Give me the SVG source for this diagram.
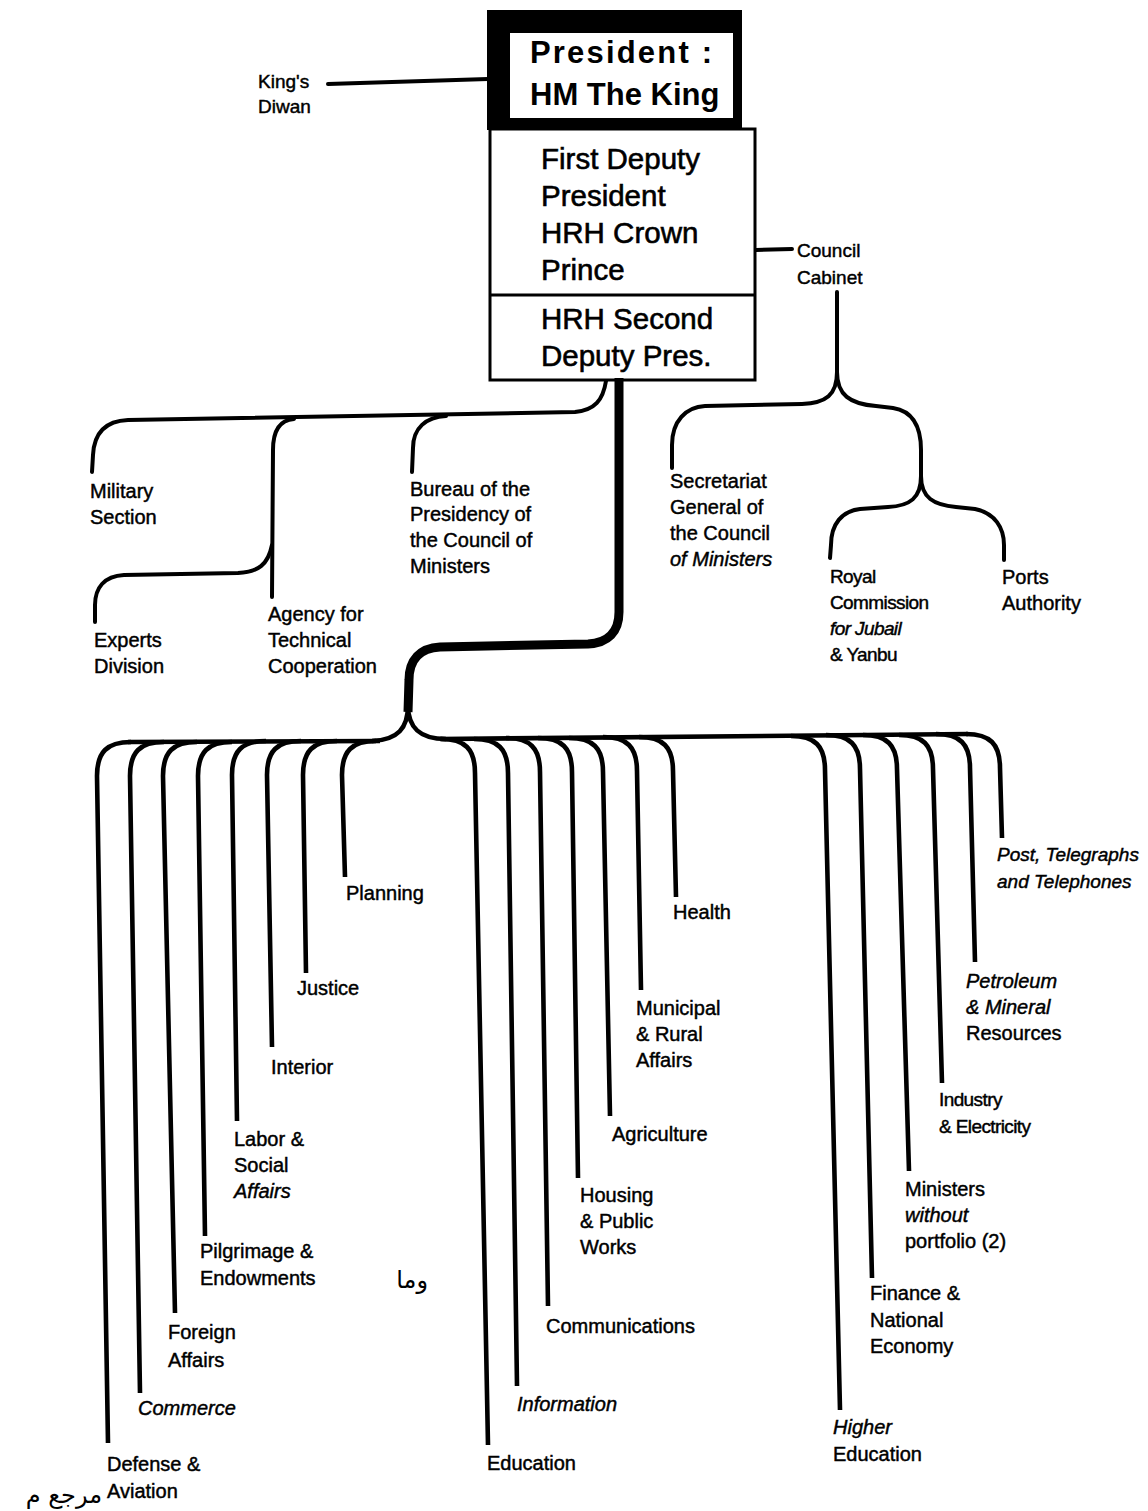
<svg xmlns="http://www.w3.org/2000/svg" width="1148" height="1511" viewBox="0 0 1148 1511">
<style>
.lbl{font-family:"Liberation Sans",Arial,sans-serif;font-size:20px;fill:#000;stroke:#000;stroke-width:0.45px}
.it{font-style:italic}
.sm{font-size:19px}
.nar{font-size:19px;letter-spacing:-0.6px}
.bx{font-family:"Liberation Sans",Arial,sans-serif;font-size:29.5px;fill:#000;stroke:#000;stroke-width:0.6px}
.bxb{font-family:"Liberation Sans",Arial,sans-serif;font-size:31px;font-weight:bold;fill:#000}
.ar{font-family:"DejaVu Sans",sans-serif;font-size:24px;fill:#000}
.c{fill:none;stroke:#000;stroke-width:4;stroke-linecap:round;stroke-linejoin:round}
.f{fill:none;stroke:#000;stroke-width:4.6;stroke-linecap:butt;stroke-linejoin:round}
.trunk{fill:none;stroke:#000;stroke-width:9;stroke-linejoin:round}
</style>
<rect width="1148" height="1511" fill="#fff"/>

<g id="connectors">
  <!-- King's Diwan -->
  <path class="c" d="M328 84 L488 79" stroke-width="3.5"/>
  <!-- Council Cabinet -->
  <path class="c" d="M756 250 L792 249" stroke-width="3.5"/>
  <path class="c" d="M837 292 L837 374"/>
  <path class="c" d="M837 372 C837 395 826 403 802 404 L705 406 C686 407 672 421 672 445 L672 468"/>
  <path class="c" d="M837 372 C837 395 850 404 876 406 L893 408 C912 411 921 425 921 450 L921 478"/>
  <path class="c" d="M921 476 C921 498 910 506 888 507 L860 509 C842 511 831 524 831 545 L830 558"/>
  <path class="c" d="M921 476 C921 498 934 505 956 507 L975 509 C995 513 1004 528 1004 545 L1004 560"/>
  <!-- thin branch from box -->
  <path class="c" d="M606 381 C603 400 595 410 575 412 L128 420 C104 421 94 435 93 455 L92 472"/>
  <path class="c" d="M446 416 C426 417 413 428 413 448 L412 472"/>
  <path class="c" d="M294 419 C280 420 273 430 273 450 L272 597"/>
  <path class="c" d="M272 545 C268 565 258 572 238 573 L124 575 C104 576 95 588 95 605 L95 622"/>
  <!-- thick trunk -->
  <path class="trunk" d="M619 378 L619 612 C619 632 608 643 588 644 L440 647 C420 648 409 660 409 680 L408 712"/>
  <path class="f" d="M408 705 C408 728 398 740 372 741" stroke-width="5"/>
  <path class="f" d="M408 705 C408 728 420 739 446 739" stroke-width="5"/>
  <!-- fan horizontals -->
  <path class="f" d="M128 742 L380 741"/>
  <path class="f" d="M440 739 L968 734"/>
  <!-- left fan -->
  <path class="f" d="M131 742 C107 742 97 752 97 776 L108 1443"/>
  <path class="f" d="M164 742 C140 742 130 752 130 776 L140 1393"/>
  <path class="f" d="M197 742 C173 742 163 752 163 776 L175 1313"/>
  <path class="f" d="M232 742 C208 742 198 752 198 776 L205 1236"/>
  <path class="f" d="M266 741 C242 741 232 751 232 775 L237 1121"/>
  <path class="f" d="M301 741 C277 741 267 751 267 775 L272 1047"/>
  <path class="f" d="M337 741 C313 741 303 751 303 775 L306 973"/>
  <path class="f" d="M376 741 C352 741 342 751 342 775 L345 877"/>
  <!-- right fan -->
  <path class="f" d="M441 739 C465 739 475 749 475 773 L488 1445"/>
  <path class="f" d="M474 739 C498 739 508 749 508 773 L517 1386"/>
  <path class="f" d="M506 738 C530 738 540 748 540 772 L548 1306"/>
  <path class="f" d="M538 738 C562 738 572 748 572 772 L578 1178"/>
  <path class="f" d="M569 738 C593 738 603 748 603 772 L610 1116"/>
  <path class="f" d="M603 737 C627 737 637 747 637 771 L641 990"/>
  <path class="f" d="M639 737 C663 737 673 747 673 771 L676 897"/>
  <path class="f" d="M791 736 C815 736 825 746 825 770 L840 1410"/>
  <path class="f" d="M826 735 C850 735 860 745 860 769 L872 1278"/>
  <path class="f" d="M863 735 C887 735 897 745 897 769 L909 1171"/>
  <path class="f" d="M899 735 C923 735 933 745 933 769 L942 1083"/>
  <path class="f" d="M936 734 C960 734 970 744 970 768 L975 962"/>
  <path class="f" d="M966 734 C990 734 1000 744 1000 768 L1002 838"/>
</g>

<g id="president">
  <rect x="487" y="10" width="255" height="120" fill="#000"/>
  <rect x="510" y="33" width="223" height="85" fill="#fff"/>
  <text class="bxb" x="530" y="63" textLength="182" lengthAdjust="spacing">President :</text>
  <text class="bxb" x="530" y="105">HM The King</text>
</g>
<g id="first-deputy">
  <rect x="490" y="129" width="265" height="251" fill="none" stroke="#000" stroke-width="3"/>
  <text class="bx" x="541" y="169">First Deputy</text>
  <text class="bx" x="541" y="206">President</text>
  <text class="bx" x="541" y="243">HRH Crown</text>
  <text class="bx" x="541" y="280">Prince</text>
</g>
<g id="second-deputy">
  <line x1="490" y1="295" x2="755" y2="295" stroke="#000" stroke-width="3"/>
  <text class="bx" x="541" y="329">HRH Second</text>
  <text class="bx" x="541" y="366">Deputy Pres.</text>
</g>

<g id="kings-diwan"><text class="lbl sm" x="258" y="88">King's</text><text class="lbl sm" x="258" y="113">Diwan</text></g>
<g id="council-cabinet"><text class="lbl sm" x="797" y="257">Council</text><text class="lbl sm" x="797" y="284">Cabinet</text></g>
<g id="military-section"><text class="lbl" x="90" y="498">Military</text><text class="lbl" x="90" y="524">Section</text></g>
<g id="bureau"><text class="lbl" x="410" y="496">Bureau of the</text><text class="lbl" x="410" y="521">Presidency of</text><text class="lbl" x="410" y="547">the Council of</text><text class="lbl" x="410" y="573">Ministers</text></g>
<g id="secretariat"><text class="lbl" x="670" y="488">Secretariat</text><text class="lbl" x="670" y="514">General of</text><text class="lbl" x="670" y="540">the Council</text><text class="lbl it" x="670" y="566">of Ministers</text></g>
<g id="royal-commission"><text class="lbl nar" x="830" y="583">Royal</text><text class="lbl nar" x="830" y="609">Commission</text><text class="lbl nar it" x="830" y="635">for Jubail</text><text class="lbl nar" x="830" y="661">&amp; Yanbu</text></g>
<g id="ports-authority"><text class="lbl" x="1002" y="584">Ports</text><text class="lbl" x="1002" y="610">Authority</text></g>
<g id="experts-division"><text class="lbl" x="94" y="647">Experts</text><text class="lbl" x="94" y="673">Division</text></g>
<g id="agency"><text class="lbl" x="268" y="621">Agency for</text><text class="lbl" x="268" y="647">Technical</text><text class="lbl" x="268" y="673">Cooperation</text></g>

<g id="planning"><text class="lbl" x="346" y="900">Planning</text></g>
<g id="justice"><text class="lbl" x="297" y="995">Justice</text></g>
<g id="interior"><text class="lbl" x="271" y="1074">Interior</text></g>
<g id="labor"><text class="lbl" x="234" y="1146">Labor &amp;</text><text class="lbl" x="234" y="1172">Social</text><text class="lbl it" x="234" y="1198">Affairs</text></g>
<g id="pilgrimage"><text class="lbl" x="200" y="1258">Pilgrimage &amp;</text><text class="lbl" x="200" y="1285">Endowments</text></g>
<g id="foreign-affairs"><text class="lbl" x="168" y="1339">Foreign</text><text class="lbl" x="168" y="1367">Affairs</text></g>
<g id="commerce"><text class="lbl it" x="138" y="1415">Commerce</text></g>
<g id="defense"><text class="lbl" x="107" y="1471">Defense &amp;</text><text class="lbl" x="107" y="1498">Aviation</text></g>

<g id="education"><text class="lbl" x="487" y="1470">Education</text></g>
<g id="information"><text class="lbl it" x="517" y="1411">Information</text></g>
<g id="communications"><text class="lbl" x="546" y="1333">Communications</text></g>
<g id="housing"><text class="lbl" x="580" y="1202">Housing</text><text class="lbl" x="580" y="1228">&amp; Public</text><text class="lbl" x="580" y="1254">Works</text></g>
<g id="agriculture"><text class="lbl" x="612" y="1141">Agriculture</text></g>
<g id="municipal"><text class="lbl" x="636" y="1015">Municipal</text><text class="lbl" x="636" y="1041">&amp; Rural</text><text class="lbl" x="636" y="1067">Affairs</text></g>
<g id="health"><text class="lbl" x="673" y="919">Health</text></g>
<g id="higher-education"><text class="lbl it" x="833" y="1434">Higher</text><text class="lbl" x="833" y="1461">Education</text></g>
<g id="finance"><text class="lbl" x="870" y="1300">Finance &amp;</text><text class="lbl" x="870" y="1327">National</text><text class="lbl" x="870" y="1353">Economy</text></g>
<g id="ministers-without-portfolio"><text class="lbl" x="905" y="1196">Ministers</text><text class="lbl it" x="905" y="1222">without</text><text class="lbl" x="905" y="1248">portfolio (2)</text></g>
<g id="industry"><text class="lbl nar" x="939" y="1106">Industry</text><text class="lbl nar" x="939" y="1133">&amp; Electricity</text></g>
<g id="petroleum"><text class="lbl it" x="966" y="988">Petroleum</text><text class="lbl it" x="966" y="1014">&amp; Mineral</text><text class="lbl" x="966" y="1040">Resources</text></g>
<g id="post"><text class="lbl it sm" x="997" y="861">Post, Telegraphs</text><text class="lbl it sm" x="997" y="888">and Telephones</text></g>

<g id="annotations">
  <text class="ar" x="428" y="1288" text-anchor="end">وما</text>
  <text class="ar" x="102" y="1503" text-anchor="end">مرجع م</text>
</g>
</svg>
